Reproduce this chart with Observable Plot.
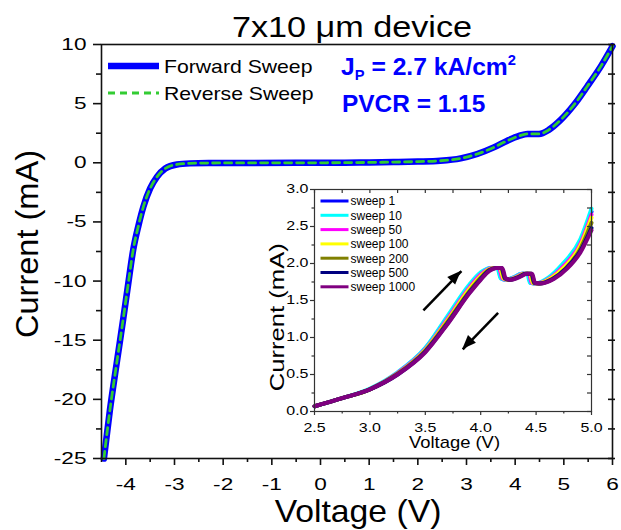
<!DOCTYPE html>
<html><head><meta charset="utf-8">
<script src="https://cdn.jsdelivr.net/npm/d3@7"></script>
<script src="https://cdn.jsdelivr.net/npm/@observablehq/plot@0.6"></script>
<style>
body{margin:0;background:#fff;}
#wrap{position:relative;width:621px;height:530px;overflow:hidden;background:#fff;}
#main{position:absolute;left:0;top:0;}
#inset{position:absolute;left:250px;top:175px;}
svg text{font-family:'Liberation Sans',Arial,sans-serif;}
</style></head><body><div id="wrap"><div id="main"></div><div id="inset"></div></div>
<script>
// ---- main chart data ----
const title = "7x10 \u03bcm device";
const voltage = [-4.45,-4.33,-4.19,-4.05,-3.95,-3.85,-3.74,-3.64,-3.5,-3.36,-3.19,-2.95,-2.68,-2.3,-1.5,-0.5,0,0.5,1.0,1.5,2.0,2.46,2.88,3.22,3.56,3.84,4.08,4.25,4.49,4.69,4.93,5.21,5.48,5.76,6.0];
const forwardCurrent = [-25,-21,-17,-13.1,-10.2,-7.4,-5.3,-3.73,-2.17,-1.19,-0.48,-0.14,-0.05,-0.02,-0.01,0,0,0.01,0.03,0.06,0.1,0.17,0.37,0.74,1.3,1.87,2.27,2.44,2.44,2.78,3.6,4.9,6.45,8.15,9.85];
const reverseCurrent = [-25,-21,-17,-13.1,-10.2,-7.4,-5.3,-3.73,-2.17,-1.19,-0.48,-0.14,-0.05,-0.02,-0.01,0,0,0.01,0.03,0.06,0.1,0.17,0.37,0.74,1.3,1.87,2.27,2.44,2.44,2.78,3.6,4.9,6.45,8.15,9.85];
const mainXTicks = [-4,-3,-2,-1,0,1,2,3,4,5,6];
const mainXMinor = [-4.5,-3.5,-2.5,-1.5,-0.5,0.5,1.5,2.5,3.5,4.5,5.5];
const mainYTicks = [-25,-20,-15,-10,-5,0,5,10];
const mainYMinor = [-22.5,-17.5,-12.5,-7.5,-2.5,2.5,7.5];
const legendMain = ["Forward Sweep","Reverse Sweep"];

// ---- inset data ----
const sweepNames = ["sweep 1","sweep 10","sweep 50","sweep 100","sweep 200","sweep 500","sweep 1000"];
const sweepColors = ["#0000ff","#00ffff","#ff00ff","#ffff00","#808000","#000080","#800080"];
const v1    = [2.5,2.75,3.0,3.25,3.5,3.7,3.9,4.0,4.04,4.10,4.155,4.185,4.225,4.295,4.375,4.425,4.45,4.495,4.615,4.735,4.9,5.0];
const i1    = [0.07,0.18,0.30,0.52,0.85,1.27,1.70,1.87,1.91,1.94,1.94,1.80,1.78,1.81,1.86,1.86,1.74,1.73,1.80,1.97,2.30,2.70];
const v10   = [2.5,2.75,3.0,3.25,3.5,3.7,3.9,4.0,4.03,4.09,4.15,4.18,4.22,4.29,4.37,4.42,4.445,4.49,4.61,4.73,4.9,5.0];
const i10   = [0.07,0.18,0.31,0.53,0.86,1.29,1.72,1.88,1.91,1.94,1.94,1.80,1.78,1.81,1.86,1.86,1.74,1.73,1.81,1.98,2.33,2.74];
const v50   = [2.5,2.75,3.0,3.25,3.5,3.7,3.9,4.0,4.05,4.11,4.165,4.195,4.235,4.305,4.385,4.435,4.46,4.505,4.625,4.745,4.9,5.0];
const i50   = [0.07,0.18,0.30,0.52,0.84,1.25,1.68,1.85,1.91,1.94,1.94,1.80,1.78,1.81,1.86,1.86,1.74,1.73,1.80,1.96,2.27,2.66];
const v100  = [2.5,2.75,3.0,3.25,3.5,3.7,3.9,4.0,4.06,4.12,4.175,4.205,4.245,4.315,4.395,4.445,4.47,4.515,4.635,4.755,4.9,5.0];
const i100  = [0.07,0.18,0.30,0.51,0.83,1.23,1.66,1.83,1.91,1.94,1.94,1.80,1.78,1.81,1.86,1.86,1.74,1.73,1.80,1.95,2.24,2.62];
const v200  = [2.5,2.75,3.0,3.25,3.5,3.7,3.9,4.0,4.07,4.13,4.185,4.215,4.255,4.325,4.405,4.455,4.48,4.525,4.645,4.765,4.9,5.0];
const i200  = [0.07,0.18,0.30,0.51,0.82,1.21,1.63,1.81,1.91,1.94,1.94,1.80,1.78,1.81,1.86,1.86,1.74,1.73,1.79,1.93,2.20,2.55];
const v500  = [2.5,2.75,3.0,3.25,3.5,3.7,3.9,4.0,4.08,4.14,4.19,4.22,4.26,4.33,4.41,4.46,4.485,4.53,4.65,4.77,4.9,5.0];
const i500  = [0.07,0.18,0.30,0.50,0.81,1.19,1.61,1.79,1.91,1.94,1.94,1.80,1.78,1.81,1.86,1.86,1.74,1.73,1.79,1.93,2.17,2.48];
const v1000 = [2.5,2.75,3.0,3.25,3.5,3.7,3.9,4.0,4.08,4.14,4.195,4.225,4.27,4.34,4.42,4.465,4.49,4.54,4.66,4.78,4.9,5.0];
const i1000 = [0.07,0.18,0.30,0.50,0.80,1.18,1.60,1.78,1.90,1.94,1.94,1.80,1.78,1.81,1.86,1.86,1.74,1.73,1.79,1.93,2.15,2.45];
const insetXTicks = [2.5,3.0,3.5,4.0,4.5,5.0];
const insetXMinor = [2.75,3.25,3.75,4.25,4.75];
const insetYTicks = [0,0.5,1.0,1.5,2.0,2.5,3.0];
const insetYMinor = [0.25,0.75,1.25,1.75,2.25,2.75];
const arrowX1 = [3.483,4.157];
const arrowY1 = [1.365,1.334];
const arrowX2 = [3.826,3.838];
const arrowY2 = [1.896,0.838];

// ---- helper: widen glyphs horizontally (the reference's type is wide) ----
function stretchEl(el, k) {
  if (!el || !el.textContent) return;
  let t = el.getAttribute("transform") || "";
  const x = el.getAttribute("x");
  if (x !== null && !isNaN(+x)) {
    t += ` translate(${+x},0)`;
    el.removeAttribute("x");
  }
  el.setAttribute("transform", (t + ` scale(${k},1)`).trim());
}
function stretchAll(svgEl, factors, dflt) {
  svgEl.querySelectorAll("text").forEach(el => {
    const k = factors[el.textContent] ?? dflt;
    if (k) stretchEl(el, k);
  });
}

// ---- main plot ----
const FONT = "'Liberation Sans', Arial, sans-serif";
const W = 621, H = 530, mL = 101, mR = 9, mT = 44, mB = 72;
const plotW = W - mL - mR;
const fwd = voltage.map((v, k) => ({v, i: forwardCurrent[k]}));
const rev = voltage.map((v, k) => ({v, i: reverseCurrent[k]}));
const AX = "#111";

const main = Plot.plot({
  width: W, height: H, marginLeft: mL, marginRight: mR, marginTop: mT, marginBottom: mB,
  style: {fontFamily: FONT, color: "#000", background: "#fff", overflow: "visible"},
  x: {domain: [-4.5, 6]},
  y: {domain: [-25, 10]},
  marks: [
    Plot.line(fwd, {x: "v", y: "i", stroke: "#0000ff", strokeWidth: 6.5, curve: "monotone-x"}),
    Plot.line(rev, {x: "v", y: "i", stroke: "#33cc33", strokeWidth: 2.8, strokeDasharray: "7,5", curve: "monotone-x"}),
    Plot.frame({stroke: AX, strokeWidth: 1.6}),
    Plot.axisX(mainXTicks, {tickSize: 7, tickPadding: 12.5, fontSize: 17, tickFormat: d => String(d), stroke: AX, strokeWidth: 1.6, label: null}),
    Plot.axisX(mainXMinor, {tickSize: 4, tickFormat: () => "", stroke: AX, strokeWidth: 1.6, label: null}),
    Plot.axisY(mainYTicks, {tickSize: 8, tickPadding: 7, fontSize: 17, tickFormat: d => String(d), stroke: AX, strokeWidth: 1.6, label: null}),
    Plot.axisY(mainYMinor, {tickSize: 5, tickFormat: () => "", stroke: AX, strokeWidth: 1.6, label: null}),
    Plot.tickY(mainYTicks.concat(mainYMinor), {y: d => d, insetLeft: plotW - 4, insetRight: -3, stroke: AX, strokeWidth: 1.6}),
    Plot.text([title], {frameAnchor: "top", dx: -5, dy: -17, lineAnchor: "middle", textAnchor: "middle", fontSize: 30, fill: "#000"}),
    Plot.text(["Voltage (V)"], {frameAnchor: "bottom", dx: 1, dy: 53, lineAnchor: "middle", textAnchor: "middle", fontSize: 31.5, fill: "#000"}),
    Plot.text(["Current (mA)"], {frameAnchor: "left", rotate: -90, dx: -73.5, dy: -7.5, lineAnchor: "middle", textAnchor: "middle", fontSize: 31, fill: "#000"})
  ]
});
document.getElementById("main").appendChild(main);
stretchAll(main, {[title]: 1.14, "Voltage (V)": 1.07, "Current (mA)": 1.05}, 1.33);

{
  const svg = d3.select(main);
  const g = svg.append("g").attr("text-anchor", "start");
  g.append("line").attr("x1", 108).attr("x2", 159).attr("y1", 66).attr("y2", 66)
    .attr("stroke", "#0000ff").attr("stroke-width", 6.5);
  g.append("line").attr("x1", 108).attr("x2", 159).attr("y1", 93).attr("y2", 93)
    .attr("stroke", "#33cc33").attr("stroke-width", 2.8).attr("stroke-dasharray", "7,5");
  legendMain.forEach((t, k) => {
    const s = g.append("text").attr("x", 164).attr("y", 73.3 + 26.7 * k).attr("font-size", 18.6).attr("fill", "#000").text(t);
    stretchEl(s.node(), 1.14);
  });
  const a = g.append("text").attr("x", 341).attr("y", 75).attr("font-size", 23.5).attr("font-weight", "bold").attr("fill", "#0000ff");
  a.append("tspan").text("J");
  a.append("tspan").attr("font-size", 14).attr("dy", 5).text("P");
  a.append("tspan").attr("dy", -5).text(" = 2.7 kA/cm");
  a.append("tspan").attr("font-size", 14).attr("dy", -10).text("2");
  stretchEl(a.node(), 1.05);
  const p = g.append("text").attr("x", 342).attr("y", 112.5).attr("font-size", 23.5).attr("font-weight", "bold").attr("fill", "#0000ff").text("PVCR = 1.15");
  stretchEl(p.node(), 1.04);
}

// ---- inset plot ----
const sweepV = [v1, v10, v50, v100, v200, v500, v1000];
const sweepI = [i1, i10, i50, i100, i200, i500, i1000];
const sweepRows = sweepNames.flatMap((name, s) => sweepV[s].map((v, k) => ({sweep: name, v, i: sweepI[s][k]})));
const arrows = arrowX1.map((x1, k) => ({x1, y1: arrowY1[k], x2: arrowX2[k], y2: arrowY2[k]}));
const IW = 350, IH = 280, imL = 64, imR = 9, imT = 14, imB = 44;
const iPW = IW - imL - imR, iPH = IH - imT - imB;
const f1 = d3.format(".1f");
const inset = Plot.plot({
  width: IW, height: IH, marginLeft: imL, marginRight: imR, marginTop: imT, marginBottom: imB,
  style: {fontFamily: FONT, color: "#000", background: "transparent", overflow: "visible"},
  x: {domain: [2.5, 5]},
  y: {domain: [0, 3]},
  color: {domain: sweepNames, range: sweepColors},
  marks: [
    Plot.rect([0], {x1: 2.5, x2: 5, y1: 0, y2: 3, fill: "#fff"}),
    Plot.line(sweepRows, {x: "v", y: "i", z: "sweep", stroke: "sweep", strokeWidth: 4, curve: "monotone-x"}),
    Plot.link(arrows, {x1: "x1", y1: "y1", x2: "x2", y2: "y2", stroke: "#000", strokeWidth: 2.5}),
    Plot.frame({stroke: "#333", strokeWidth: 1.2}),
    Plot.axisX(insetXTicks, {tickSize: 4, tickPadding: 7.5, fontSize: 12, tickFormat: f1, stroke: "#333", strokeWidth: 1.2, label: null}),
    Plot.axisX(insetXMinor, {tickSize: 2.5, tickFormat: () => "", stroke: "#333", strokeWidth: 1.2, label: null}),
    Plot.axisY(insetYTicks, {tickSize: 4, tickPadding: 2, fontSize: 12, tickFormat: f1, stroke: "#333", strokeWidth: 1.2, label: null}),
    Plot.axisY(insetYMinor, {tickSize: 2.5, tickFormat: () => "", stroke: "#333", strokeWidth: 1.2, label: null}),
    Plot.tickX(insetXTicks.concat(insetXMinor), {x: d => d, insetBottom: iPH - 4, stroke: "#333", strokeWidth: 1.2}),
    Plot.tickY(insetYTicks.concat(insetYMinor), {y: d => d, insetLeft: iPW - 4, stroke: "#333", strokeWidth: 1.2}),
    Plot.text(["Voltage (V)"], {frameAnchor: "bottom", dx: 1.5, dy: 31.3, lineAnchor: "middle", textAnchor: "middle", fontSize: 16, fill: "#000"}),
    Plot.text(["Current (mA)"], {frameAnchor: "left", rotate: -90, dx: -37.5, dy: 16.7, lineAnchor: "middle", textAnchor: "middle", fontSize: 21, fill: "#000"})
  ]
});
document.getElementById("inset").appendChild(inset);
stretchAll(inset, {"Voltage (V)": 1.15, "Current (mA)": 1.22}, 1.33);

{
  const svg = d3.select(inset);
  const sx = inset.scale("x"), sy = inset.scale("y");
  const g = svg.append("g").attr("text-anchor", "start");
  arrows.forEach(a => {
    const x1 = sx.apply(a.x1), y1 = sy.apply(a.y1), x2 = sx.apply(a.x2), y2 = sy.apply(a.y2);
    const ang = Math.atan2(y2 - y1, x2 - x1);
    const L = 14, Wd = 5.5;
    const bx = x2 - L * Math.cos(ang), by = y2 - L * Math.sin(ang);
    const px = -Math.sin(ang) * Wd, py = Math.cos(ang) * Wd;
    g.append("path").attr("d", `M${x2},${y2}L${bx + px},${by + py}L${bx - px},${by - py}Z`).attr("fill", "#000");
  });
  sweepNames.forEach((name, k) => {
    const y = 26 + 14.3 * k;
    g.append("line").attr("x1", 70.5).attr("x2", 98.5).attr("y1", y).attr("y2", y)
      .attr("stroke", sweepColors[k]).attr("stroke-width", 3);
    g.append("text").attr("x", 100.5).attr("y", y + 4.3).attr("font-size", 12).attr("fill", "#000").text(name);
  });
}
</script></body></html>
